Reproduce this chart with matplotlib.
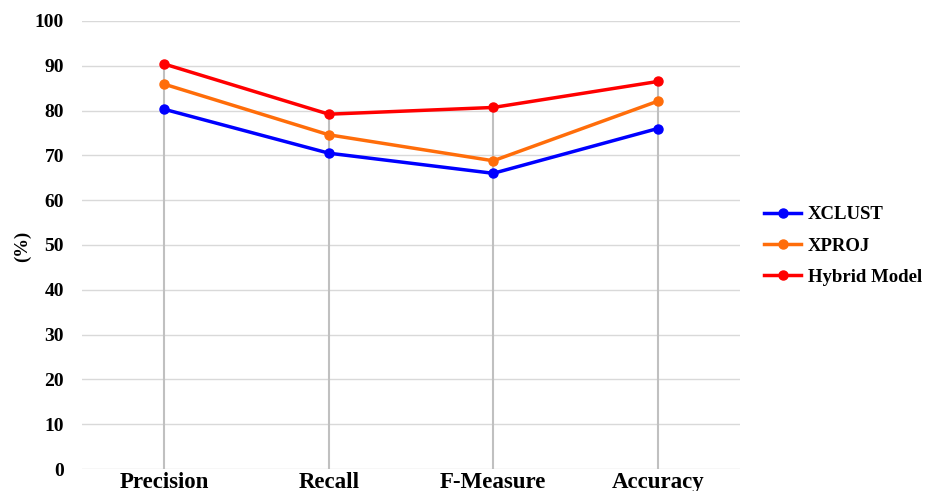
import matplotlib.pyplot as plt
import numpy as np

categories = ['Precision', 'Recall', 'F-Measure', 'Accuracy']
xclust = [80.3, 70.5, 66.0, 76.0]
xproj = [85.9, 74.6, 68.8, 82.1]
hybrid = [90.4, 79.2, 80.7, 86.5]

series = [
    ('XCLUST', xclust, '#0000ff'),
    ('XPROJ', xproj, '#ff6d0a'),
    ('Hybrid Model', hybrid, '#ff0000'),
]

plt.rcParams['font.family'] = ['Liberation Serif', 'DejaVu Serif']
plt.rcParams['font.weight'] = 'bold'

fig = plt.figure(figsize=(9.25, 4.91), dpi=100)
ax = fig.add_axes([82 / 925, 22 / 491, 658 / 925, 448 / 491])

x = np.arange(len(categories))

# horizontal grid
for v in range(0, 101, 10):
    ax.axhline(v, color='#d9d9d9', lw=1.0, zorder=0)

# drop lines from the axis up to the highest point
tops = np.max([xclust, xproj, hybrid], axis=0)
ax.vlines(x, 0, tops, color='#c0c0c0', lw=1.5, zorder=1)

for name, vals, col in series:
    ax.plot(x, vals, color=col, lw=2.5, marker='o', markersize=6.5,
            label=name, zorder=3)

ax.set_xlim(-0.5, 3.5)
ax.set_ylim(0, 100)
ax.set_yticks(range(0, 101, 10))
ax.set_xticks(x)
ax.set_xticklabels(categories, fontsize=16.5, fontweight='bold')
ax.tick_params(axis='y', labelsize=14, length=0, pad=13)
ax.tick_params(axis='x', length=0, pad=2)
for lbl in ax.get_yticklabels():
    lbl.set_fontweight('bold')
for s in ax.spines.values():
    s.set_visible(False)

fig.text(22 / 925, 245 / 491, '(%)', rotation=90, fontsize=13.5,
         fontweight='bold', ha='center', va='center')

leg = fig.legend(loc='center left', bbox_to_anchor=(747 / 925, 245 / 491),
                 frameon=False, fontsize=13.5, handlelength=2.0,
                 labelspacing=0.75, handletextpad=0.35)

fig.savefig('out.png', dpi=100)
